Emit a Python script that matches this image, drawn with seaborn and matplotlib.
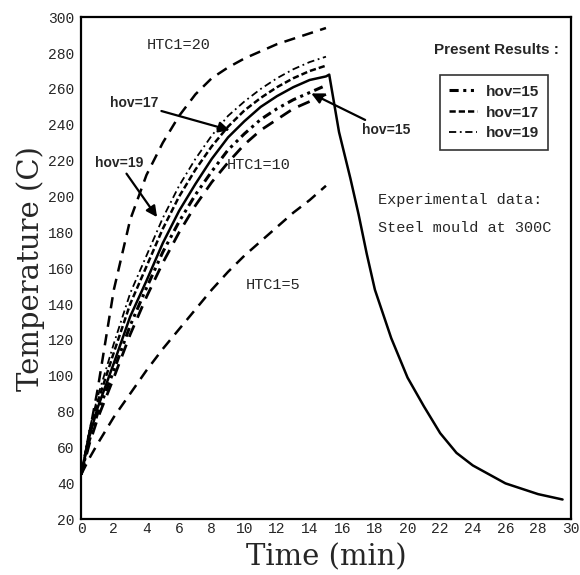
import numpy as np
import pandas as pd
import seaborn as sns
import matplotlib
matplotlib.use("Agg")
import matplotlib.pyplot as plt
from matplotlib.lines import Line2D

# heating time grid (min)
time_heat = [0, 0.5, 1, 2, 3, 4, 5, 6, 7, 8, 9, 10, 11, 12, 13, 14, 15]

# experimental curve: heating then cooling
exp_time = time_heat + [15.2, 15.8, 16.5, 17, 17.5, 18, 19, 20, 21, 22, 23, 24, 25, 26, 27, 28, 29, 29.5]
exp_temp = [45, 66, 82, 107, 133, 153, 174, 192, 207, 221, 233, 242, 250, 256, 261, 265, 267,
            268, 236, 210, 190, 168, 148, 121, 99, 83, 68, 57, 50, 45, 40, 37, 34, 32, 31]

# HTC1 model curves
htc20 = [45, 68, 92, 148, 187, 212, 230, 245, 257, 266, 272, 277, 281, 285, 288, 291, 294]
htc10 = [45, 62, 76, 99, 123, 144, 163, 180, 195, 208, 219, 229, 237, 243, 249, 253, 257]
htc5 = [45, 54, 62, 77, 90, 103, 115, 126, 137, 148, 158, 167, 175, 183, 191, 198, 206]

# present results
hov15 = [45, 64, 79, 103, 128, 149, 169, 186, 201, 214, 226, 235, 243, 249, 254, 258, 262]
hov17 = [45, 68, 85, 113, 140, 161, 182, 200, 215, 228, 239, 248, 255, 261, 266, 270, 273]
hov19 = [45, 70, 88, 118, 146, 167, 188, 206, 221, 234, 245, 253, 260, 266, 271, 275, 278]

x_ticks = list(range(0, 31, 2))
y_ticks = list(range(20, 301, 20))

sns.set_style("white")
plt.rcParams['font.family'] = ['DejaVu Serif']

fig = plt.figure(figsize=(5.8, 5.75), dpi=100)
ax = fig.add_axes([0.14, 0.097, 0.844, 0.873])

dash_htc = (0, (4.5, 3))
st15 = (0, (3, 1.5, 1, 1.5, 1, 1.5))
st17 = (0, (2.5, 1.2))
st19 = (0, (4, 2, 1, 2))

sns.lineplot(x=exp_time, y=exp_temp, ax=ax, color="black", lw=1.8, sort=False)
sns.lineplot(x=time_heat, y=htc20, ax=ax, color="black", lw=1.8, linestyle=dash_htc)
sns.lineplot(x=time_heat, y=htc10, ax=ax, color="black", lw=2.0, linestyle=dash_htc)
sns.lineplot(x=time_heat, y=htc5, ax=ax, color="black", lw=1.8, linestyle=dash_htc)
sns.lineplot(x=time_heat, y=hov15, ax=ax, color="black", lw=2.2, linestyle=st15)
sns.lineplot(x=time_heat, y=hov17, ax=ax, color="black", lw=1.8, linestyle=st17)
sns.lineplot(x=time_heat, y=hov19, ax=ax, color="black", lw=1.3, linestyle=st19)

ax.set_xlim(0, 30)
ax.set_ylim(20, 300)
ax.set_xticks(x_ticks)
ax.set_yticks(y_ticks)
mono = "Liberation Mono"
ax.set_xticklabels([str(v) for v in x_ticks], family=mono, fontsize=10.5)
ax.set_yticklabels([str(v) for v in y_ticks], family=mono, fontsize=10.5)
ax.tick_params(axis="x", length=0, pad=2)
ax.tick_params(axis="y", length=0, pad=5)
for s in ax.spines.values():
    s.set_color("black")
    s.set_linewidth(1.6)

ax.set_xlabel("Time (min)", fontsize=21, labelpad=5)
ax.set_ylabel("Temperature (C)", fontsize=21, labelpad=2)

# curve labels
ax.text(4.0, 284.5, "HTC1=20", family=mono, fontsize=11, va="center")
ax.text(8.9, 217.5, "HTC1=10", family=mono, fontsize=11, va="center")
ax.text(10.1, 150.5, "HTC1=5", family=mono, fontsize=11, va="center")

bold = dict(family="Liberation Sans", fontsize=10, fontweight="bold", va="center")
arrow = dict(arrowstyle="-|>", color="black", lw=1.6, mutation_scale=16, shrinkA=0, shrinkB=0)
ax.annotate("hov=17", xy=(9.1, 237), xytext=(1.75, 252), arrowprops=arrow, **bold)
ax.annotate("hov=19", xy=(4.65, 188.5), xytext=(0.85, 218.5), arrowprops=arrow, **bold)
ax.annotate("hov=15", xy=(14.1, 257.5), xytext=(17.2, 237), arrowprops=arrow, **bold)

ax.text(21.6, 281.5, "Present Results :", family="Liberation Sans", fontsize=11,
        fontweight="bold", va="center")
ax.text(18.2, 198, "Experimental data:", family=mono, fontsize=11, va="center")
ax.text(18.2, 182.3, "Steel mould at 300C", family=mono, fontsize=11, va="center")

handles = [
    Line2D([], [], color="black", lw=2.2, linestyle=st15),
    Line2D([], [], color="black", lw=1.8, linestyle=st17),
    Line2D([], [], color="black", lw=1.3, linestyle=st19),
]
leg = ax.legend(handles, ["hov=15", "hov=17", "hov=19"], loc="upper left",
                bbox_to_anchor=(0.733, 0.884), borderaxespad=0, frameon=True,
                fancybox=False, edgecolor="black", handlelength=1.8,
                handletextpad=0.6, borderpad=0.6, labelspacing=0.45,
                prop=dict(family="Liberation Sans", size=11, weight="bold"))
leg.get_frame().set_linewidth(1.2)

fig.savefig("out.png", dpi=100)
